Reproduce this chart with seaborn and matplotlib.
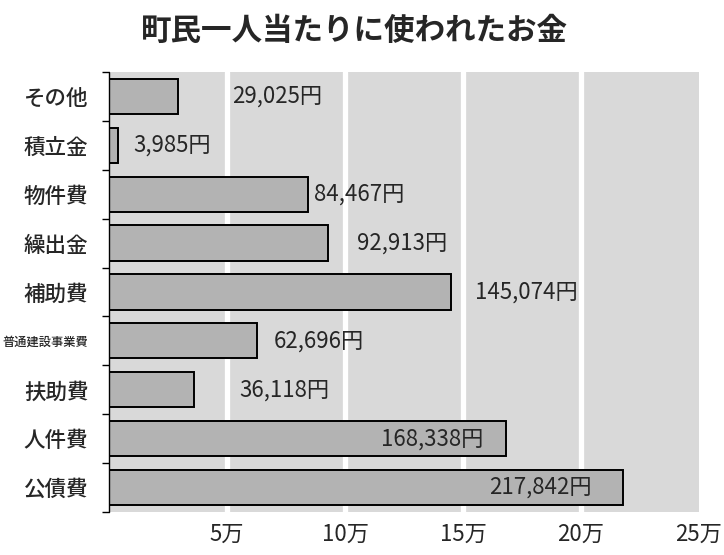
import matplotlib
matplotlib.use("Agg")
import matplotlib.pyplot as plt
import seaborn as sns
import pandas as pd
import numpy as np

# データ（円）
categories = ["その他", "積立金", "物件費", "繰出金", "補助費",
              "普通建設事業費", "扶助費", "人件費", "公債費"]
amounts = [29025, 3985, 84467, 92913, 145074, 62696, 36118, 168338, 217842]
tick_values = [50000, 100000, 150000, 200000, 250000]
tick_labels = ["5万", "10万", "15万", "20万", "25万"]
title = "町民一人当たりに使われたお金"

# ラベルの位置調整（ピクセル、バー端から）
label_offsets = [55, 15, 6, 29, 24, 17, 45, -23, -31]

sns.set_style("white")
plt.rcParams["font.family"] = ["Noto Sans CJK JP", "DejaVu Sans"]

df = pd.DataFrame({"項目": categories, "金額": amounts})

fig = plt.figure(figsize=(7.24, 5.55), dpi=100)
ax = fig.add_axes([0.1506, 0.0775, 0.8149, 0.7928])
ax.set_facecolor("#d9d9d9")

sns.barplot(data=df, x="金額", y="項目", orient="h", color="#b3b3b3",
            saturation=1, edgecolor="black", linewidth=1.4, width=0.72,
            ax=ax, zorder=3)

ax.set_xlim(0, 250000)
ax.set_ylim(len(categories) - 0.5, -0.5)
ax.set_xticks(tick_values)
ax.set_xticks([], minor=True)
ax.set_xticklabels(tick_labels, fontsize=16)
ax.tick_params(axis="x", which="both", bottom=False, length=0, pad=8)
ax.set_xlabel("")
ax.set_ylabel("")

# 縦の白いグリッド
for v in tick_values[:-1]:
    ax.axvline(v, color="white", linewidth=3.8, zorder=1)

# 左軸と区切りの目盛
for s in ["top", "right", "bottom", "left"]:
    ax.spines[s].set_visible(False)
ax.axvline(0, color="black", linewidth=1.0, clip_on=False, zorder=4)
ax.set_yticks(np.arange(-0.5, len(categories)), minor=True)
ax.tick_params(axis="y", which="major", left=False, length=0, pad=15)
ax.tick_params(axis="y", which="minor", left=True, length=5, width=1,
               color="black", direction="out")

for lbl in ax.get_yticklabels():
    lbl.set_fontweight("medium")
    if len(lbl.get_text()) > 5:
        lbl.set_fontsize(8.8)
    else:
        lbl.set_fontsize(15.5)

# 値ラベル
for i, (v, off) in enumerate(zip(amounts, label_offsets)):
    ax.annotate(f"{v:,}円", xy=(v, i), xytext=(off, 0),
                textcoords="offset pixels", va="center",
                ha="left" if off >= 0 else "right", fontsize=16, zorder=5)

fig.text(0.49, 0.945, title, ha="center", va="center", fontsize=22,
         fontweight="bold")

fig.savefig("out.png", dpi=100)
